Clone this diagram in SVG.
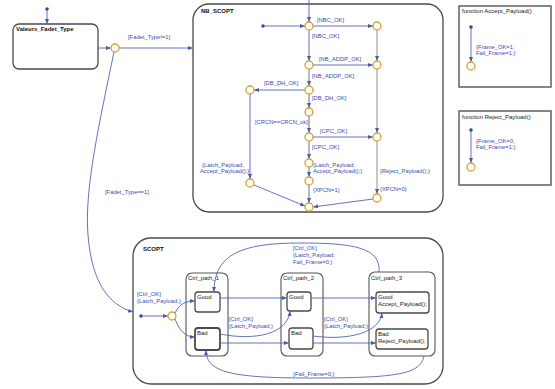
<svg xmlns="http://www.w3.org/2000/svg" width="555" height="389" viewBox="0 0 555 389">
<defs>
<marker id="a" viewBox="0 0 6 6" refX="6" refY="3" markerWidth="5" markerHeight="5" orient="auto" markerUnits="userSpaceOnUse"><path d="M0,0.6 L6,3 L0,5.4 z" fill="#4b59aa"/></marker>
<style>
.st{fill:#fff;stroke:#4a4a4a;stroke-width:1.3}
.sub{fill:#fff;stroke:#555;stroke-width:1.1}
.fn{fill:#fff;stroke:#555;stroke-width:1.4}
.t{font-family:"Liberation Sans",Arial,sans-serif;font-size:6px;fill:#222}
.tb{font-family:"Liberation Sans",Arial,sans-serif;font-size:6px;fill:#111;font-weight:bold}
.l{font-family:"Liberation Sans",Arial,sans-serif;font-size:5.8px;fill:#3c4ab0}
.c{fill:none;stroke:#5563b0;stroke-width:0.9;marker-end:url(#a)}
.cn{fill:none;stroke:#5563b0;stroke-width:0.9}
.cg{fill:none;stroke:#8a8fa8;stroke-width:1;marker-end:url(#a)}
.j{fill:#fff;stroke:#d9a032;stroke-width:1.3}
.d{fill:#3a48a0}
</style>
</defs>
<rect width="555" height="389" fill="#fff"/>

<g id="valeur_fadet_type">
<rect class="st" x="13" y="24" width="85" height="45" rx="6"/>
<text class="tb" x="16" y="31">Valeurs_Fadet_Type</text>
</g>

<g id="nb_scopt">
<rect class="st" x="193" y="4" width="250" height="208" rx="16"/>
<text class="tb" x="201" y="13">NB_SCOPT</text>
</g>

<g id="fn_accept">
<rect class="fn" x="459" y="6" width="92" height="81"/>
<text class="t" x="462" y="13">function  Accept_Payload()</text>
</g>

<g id="fn_reject">
<rect class="fn" x="459" y="111" width="92" height="74"/>
<text class="t" x="462" y="119">function  Reject_Payload()</text>
</g>

<g id="scopt">
<rect class="st" x="133" y="238" width="310" height="146" rx="18"/>
<text class="tb" x="143" y="251">SCOPT</text>
</g>

<g id="ctrl_path_1">
<rect class="sub" x="186" y="273" width="42" height="83" rx="6"/>
<text class="t" x="188" y="280">Ctrl_path_1</text>
</g>
<g id="good_1"><rect class="st" x="195" y="292" width="25" height="20" rx="3"/><text class="t" x="197" y="299">Good</text></g>
<g id="bad_1"><rect class="st" x="195" y="328" width="25" height="22" rx="3" style="stroke-width:1.8"/><text class="t" x="197" y="335">Bad</text></g>

<g id="ctrl_path_2">
<rect class="sub" x="281" y="273" width="42" height="83" rx="6"/>
<text class="t" x="283" y="280">Ctrl_path_2</text>
</g>
<g id="good_2"><rect class="st" x="287" y="292" width="24" height="19" rx="3"/><text class="t" x="289" y="299">Good</text></g>
<g id="bad_2"><rect class="st" x="289" y="328" width="24" height="21" rx="3"/><text class="t" x="291" y="335">Bad</text></g>

<g id="ctrl_path_3">
<rect class="sub" x="369" y="272" width="66" height="84" rx="6"/>
<text class="t" x="371" y="280">Ctrl_path_3</text>
</g>
<g id="good_3"><rect class="st" x="376" y="292" width="53" height="21" rx="3"/><text class="t" x="378" y="299">Good</text><text class="t" x="378" y="306">Accept_Payload();</text></g>
<g id="bad_3"><rect class="st" x="376" y="329" width="52" height="20" rx="3"/><text class="t" x="378" y="336">Bad</text><text class="t" x="378" y="343">Reject_Payload();</text></g>

<g id="connectors">
<!-- top level -->
<circle class="d" cx="47" cy="9" r="1.8"/>
<path class="c" d="M47,10 L47,24"/>
<path class="c" d="M98,48 L111,48"/>
<path class="c" d="M119,48 L193,48"/>
<path class="c" d="M114,52 C100,120 84,190 88,235 C92,285 110,305 133,312"/>
<text class="l" x="128" y="39">[Fadet_Type!=1]</text>
<text class="l" x="105" y="194">[Fadet_Type==1]</text>

<!-- NB_SCOPT -->
<path class="c" d="M309,0 L309,22"/>
<circle class="d" cx="263" cy="26" r="1.8"/>
<path class="c" d="M264,26 L305,26"/>
<path class="c" d="M309,30 L309,61"/>
<path class="c" d="M309,69 L309,86"/>
<path class="c" d="M309,94 L309,108"/>
<path class="c" d="M309,116 L309,133"/>
<path class="c" d="M309,141 L309,159"/>
<path class="c" d="M309,167 L309,177"/>
<path class="c" d="M309,185 L309,203"/>
<path class="c" d="M313,26 L373,26"/>
<path class="c" d="M313,65 L373,65"/>
<path class="c" d="M313,137 L373,137"/>
<path class="c" d="M305,90 L254,90"/>
<path class="cg" d="M377,30 L377,61"/>
<path class="cg" d="M377,69 L377,133"/>
<path class="cg" d="M377,141 L377,194"/>
<path class="c" d="M373,199 L313,207"/>
<path class="c" d="M250,94 L250,179"/>
<path class="c" d="M254,185 L305,206"/>
<text class="l" x="317" y="22">[NBC_OK]</text>
<text class="l" x="312" y="38">[NBC_OK]</text>
<text class="l" x="319" y="61">[NB_ADDP_OK]</text>
<text class="l" x="312" y="78">[NB_ADDP_OK]</text>
<text class="l" x="264" y="85">[DB_DH_OK]</text>
<text class="l" x="312" y="100">[DB_DH_OK]</text>
<text class="l" x="255" y="124">[CRCN==CRCN_ok]</text>
<text class="l" x="320" y="133">[CPC_OK]</text>
<text class="l" x="312" y="149">[CPC_OK]</text>
<text class="l" x="313" y="167">{Latch_Payload;</text>
<text class="l" x="313" y="173">Accept_Payload();}</text>
<text class="l" x="313" y="192">{XPCN=1}</text>
<text class="l" x="380" y="173">{Reject_Payload();}</text>
<text class="l" x="380" y="191">{XPCN=0}</text>
<text class="l" x="202" y="167">{Latch_Payload;</text>
<text class="l" x="200" y="173">Accept_Payload();}</text>
<circle class="j" cx="309" cy="26" r="4"/>
<circle class="j" cx="309" cy="65" r="4"/>
<circle class="j" cx="309" cy="90" r="4"/>
<circle class="j" cx="309" cy="112" r="4"/>
<circle class="j" cx="309" cy="137" r="4"/>
<circle class="j" cx="309" cy="163" r="4"/>
<circle class="j" cx="309" cy="181" r="4"/>
<circle class="j" cx="309" cy="207" r="4"/>
<circle class="j" cx="377" cy="26" r="4"/>
<circle class="j" cx="377" cy="65" r="4"/>
<circle class="j" cx="377" cy="137" r="4"/>
<circle class="j" cx="377" cy="198" r="4"/>
<circle class="j" cx="250" cy="90" r="4"/>
<circle class="j" cx="250" cy="183" r="4"/>
<circle class="j" cx="115" cy="48" r="4"/>

<!-- functions -->
<circle class="d" cx="471" cy="27" r="1.8"/>
<path class="c" d="M471,28 L471,62"/>
<circle class="j" cx="471" cy="66" r="4"/>
<text class="l" x="476" y="49">{Frame_OK=1;</text>
<text class="l" x="476" y="55">Fail_Frame=1;}</text>
<circle class="d" cx="471" cy="130" r="1.8"/>
<path class="c" d="M471,131 L471,163"/>
<circle class="j" cx="471" cy="167" r="4"/>
<text class="l" x="476" y="143">{Frame_OK=0;</text>
<text class="l" x="476" y="149">Fail_Frame=1;}</text>

<!-- SCOPT -->
<circle class="d" cx="141" cy="316" r="1.8"/>
<path class="c" d="M142,316 L168,316"/>
<circle class="j" cx="172" cy="316" r="4"/>
<text class="l" x="137" y="296">[Ctrl_OK]</text>
<text class="l" x="137" y="303">{Latch_Payload;}</text>
<path class="c" d="M175,313 C180,303 186,301 195,301"/>
<path class="c" d="M175,319 C180,332 186,337 195,337"/>
<path class="c" d="M220,298 L287,298"/>
<path class="c" d="M311,298 L376,298"/>
<path class="c" d="M220,343 L289,343"/>
<path class="c" d="M313,343 L376,343"/>
<path class="c" d="M220,334 C255,341 288,334 290,311"/>
<path class="c" d="M313,336 C350,341 380,332 382,313"/>
<text class="l" x="229" y="321">[Ctrl_OK]</text>
<text class="l" x="229" y="328">{Latch_Payload;}</text>
<text class="l" x="324" y="321">[Ctrl_OK]</text>
<text class="l" x="324" y="328">{Latch_Payload;}</text>
<path class="c" d="M379,272 C381,248 355,243 300,243 C240,243 214,255 214,292"/>
<text class="l" x="293" y="250">[Ctrl_OK]</text>
<text class="l" x="293" y="257">{Latch_Payload;</text>
<text class="l" x="293" y="264">Fail_Frame=0;}</text>
<path class="c" d="M424,356 C420,374 400,378 310,378 C230,378 206,372 206,350"/>
<text class="l" x="293" y="376">{Fail_Frame=0;}</text>
</g>
</svg>
